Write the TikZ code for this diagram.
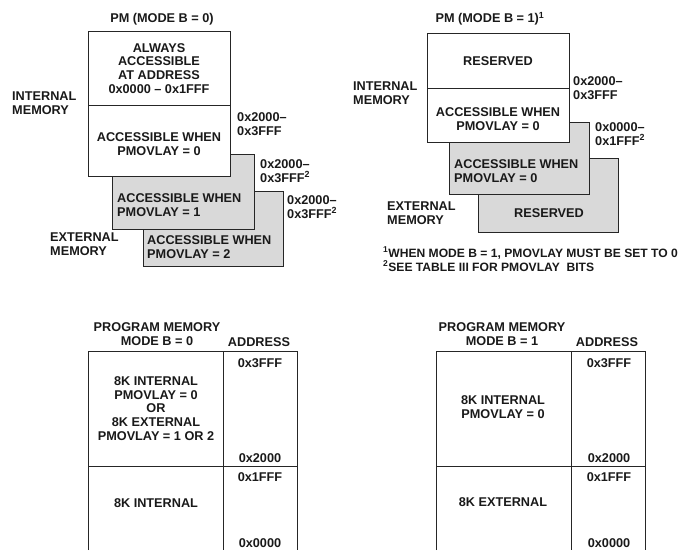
\documentclass[tikz,border=0pt]{standalone}
\usepackage{fontspec}
\setmainfont{Liberation Sans}
\begin{document}
\begin{tikzpicture}[x=1pt,y=-1pt,
  lbl/.style={font=\bfseries\fontsize{12.7}{13.8}\selectfont, inner sep=0pt, align=left, text=black!90},
  ctr/.style={lbl, align=center},
  note/.style={lbl, font=\bfseries\fontsize{12.1}{14}\selectfont},
  box/.style={draw=black!85, line width=0.8pt},
  gbox/.style={box, fill=black!15},
  wbox/.style={box, fill=white}]
\useasboundingbox (0,0) rectangle (687,550);

% ---------- top left: PM (MODE B = 0)
\node[ctr] (t1) at (162,19) {PM (MODE B = 0)};
\filldraw[gbox] (143,191) rectangle (283,266);
\filldraw[gbox] (112,154) rectangle (254,229);
\filldraw[wbox] (88,31) rectangle (230,176);
\draw[box] (88,105) -- (230,105);
\node[ctr] (a1) at (159,68.5) {ALWAYS\\ACCESSIBLE\\AT ADDRESS\\0x0000 -- 0x1FFF};
\node[ctr] (a2) at (159,144.5) {ACCESSIBLE WHEN\\PMOVLAY = 0};
\node[lbl, anchor=west] (a3) at (117,205.5) {ACCESSIBLE WHEN\\PMOVLAY = 1};
\node[lbl, anchor=west] (a4) at (147,247.5) {ACCESSIBLE WHEN\\PMOVLAY = 2};
\node[lbl, anchor=west] (im1) at (12,103.5) {INTERNAL\\MEMORY};
\node[lbl, anchor=west] (em1) at (50,244) {EXTERNAL\\MEMORY};
\node[lbl, anchor=west] (ad1) at (237,124) {0x2000--\\0x3FFF};
\node[lbl, anchor=west] (ad2) at (260,171) {0x2000--\\0x3FFF\textsuperscript{2}};
\node[lbl, anchor=west] (ad3) at (287,207) {0x2000--\\0x3FFF\textsuperscript{2}};

% ---------- top right: PM (MODE B = 1)
\node[ctr] (t2) at (490,19) {PM (MODE B = 1)\textsuperscript{1}};
\filldraw[gbox] (478,158) rectangle (618,232);
\filldraw[gbox] (449,122) rectangle (589,194);
\filldraw[wbox] (427,33) rectangle (569,142);
\draw[box] (427,88) -- (569,88);
\node[ctr] (b1) at (498,61) {RESERVED};
\node[ctr] (b2) at (498,119.5) {ACCESSIBLE WHEN\\PMOVLAY = 0};
\node[lbl, anchor=west] (b3) at (454,171) {ACCESSIBLE WHEN\\PMOVLAY = 0};
\node[ctr] (b4) at (549,213) {RESERVED};
\node[lbl, anchor=west] (im2) at (353,93.5) {INTERNAL\\MEMORY};
\node[lbl, anchor=west] (em2) at (387,213.5) {EXTERNAL\\MEMORY};
\node[lbl, anchor=west] (bd1) at (573,88) {0x2000--\\0x3FFF};
\node[lbl, anchor=west] (bd2) at (595,134) {0x0000--\\0x1FFF\textsuperscript{2}};
\node[note, anchor=west] (fn) at (383,259) {\textsuperscript{1}WHEN MODE B = 1, PMOVLAY MUST BE SET TO 0\\\textsuperscript{2}SEE TABLE III FOR PMOVLAY\ \ BITS};

% ---------- bottom left table
\node[ctr] (p1) at (157,334.5) {PROGRAM MEMORY\\MODE B = 0};
\node[ctr] (ha) at (259,342) {ADDRESS};
\draw[box] (88,550) -- (88,351) -- (297,351) -- (297,550);
\draw[box] (223,351) -- (223,550);
\draw[box] (88,466) -- (297,466);
\node[ctr] (c1) at (156,408.5) {8K INTERNAL\\PMOVLAY = 0\\OR\\8K EXTERNAL\\PMOVLAY = 1 OR 2};
\node[ctr] (c2) at (156,503) {8K INTERNAL};
\node[ctr] (c3) at (260,363) {0x3FFF};
\node[ctr] (c4) at (260,458) {0x2000};
\node[ctr] (c5) at (260,477) {0x1FFF};
\node[ctr] (c6) at (260,543.5) {0x0000};

% ---------- bottom right table
\node[ctr] (p2) at (502,334.5) {PROGRAM MEMORY\\MODE B = 1};
\node[ctr] (hb) at (607,342) {ADDRESS};
\draw[box] (436,550) -- (436,351) -- (645,351) -- (645,550);
\draw[box] (571,351) -- (571,550);
\draw[box] (436,466) -- (645,466);
\node[ctr] (d1) at (503,407) {8K INTERNAL\\PMOVLAY = 0};
\node[ctr] (d2) at (503,502) {8K EXTERNAL};
\node[ctr] (d3) at (609,363) {0x3FFF};
\node[ctr] (d4) at (609,458) {0x2000};
\node[ctr] (d5) at (609,477) {0x1FFF};
\node[ctr] (d6) at (609,543.5) {0x0000};
\end{tikzpicture}
\end{document}
